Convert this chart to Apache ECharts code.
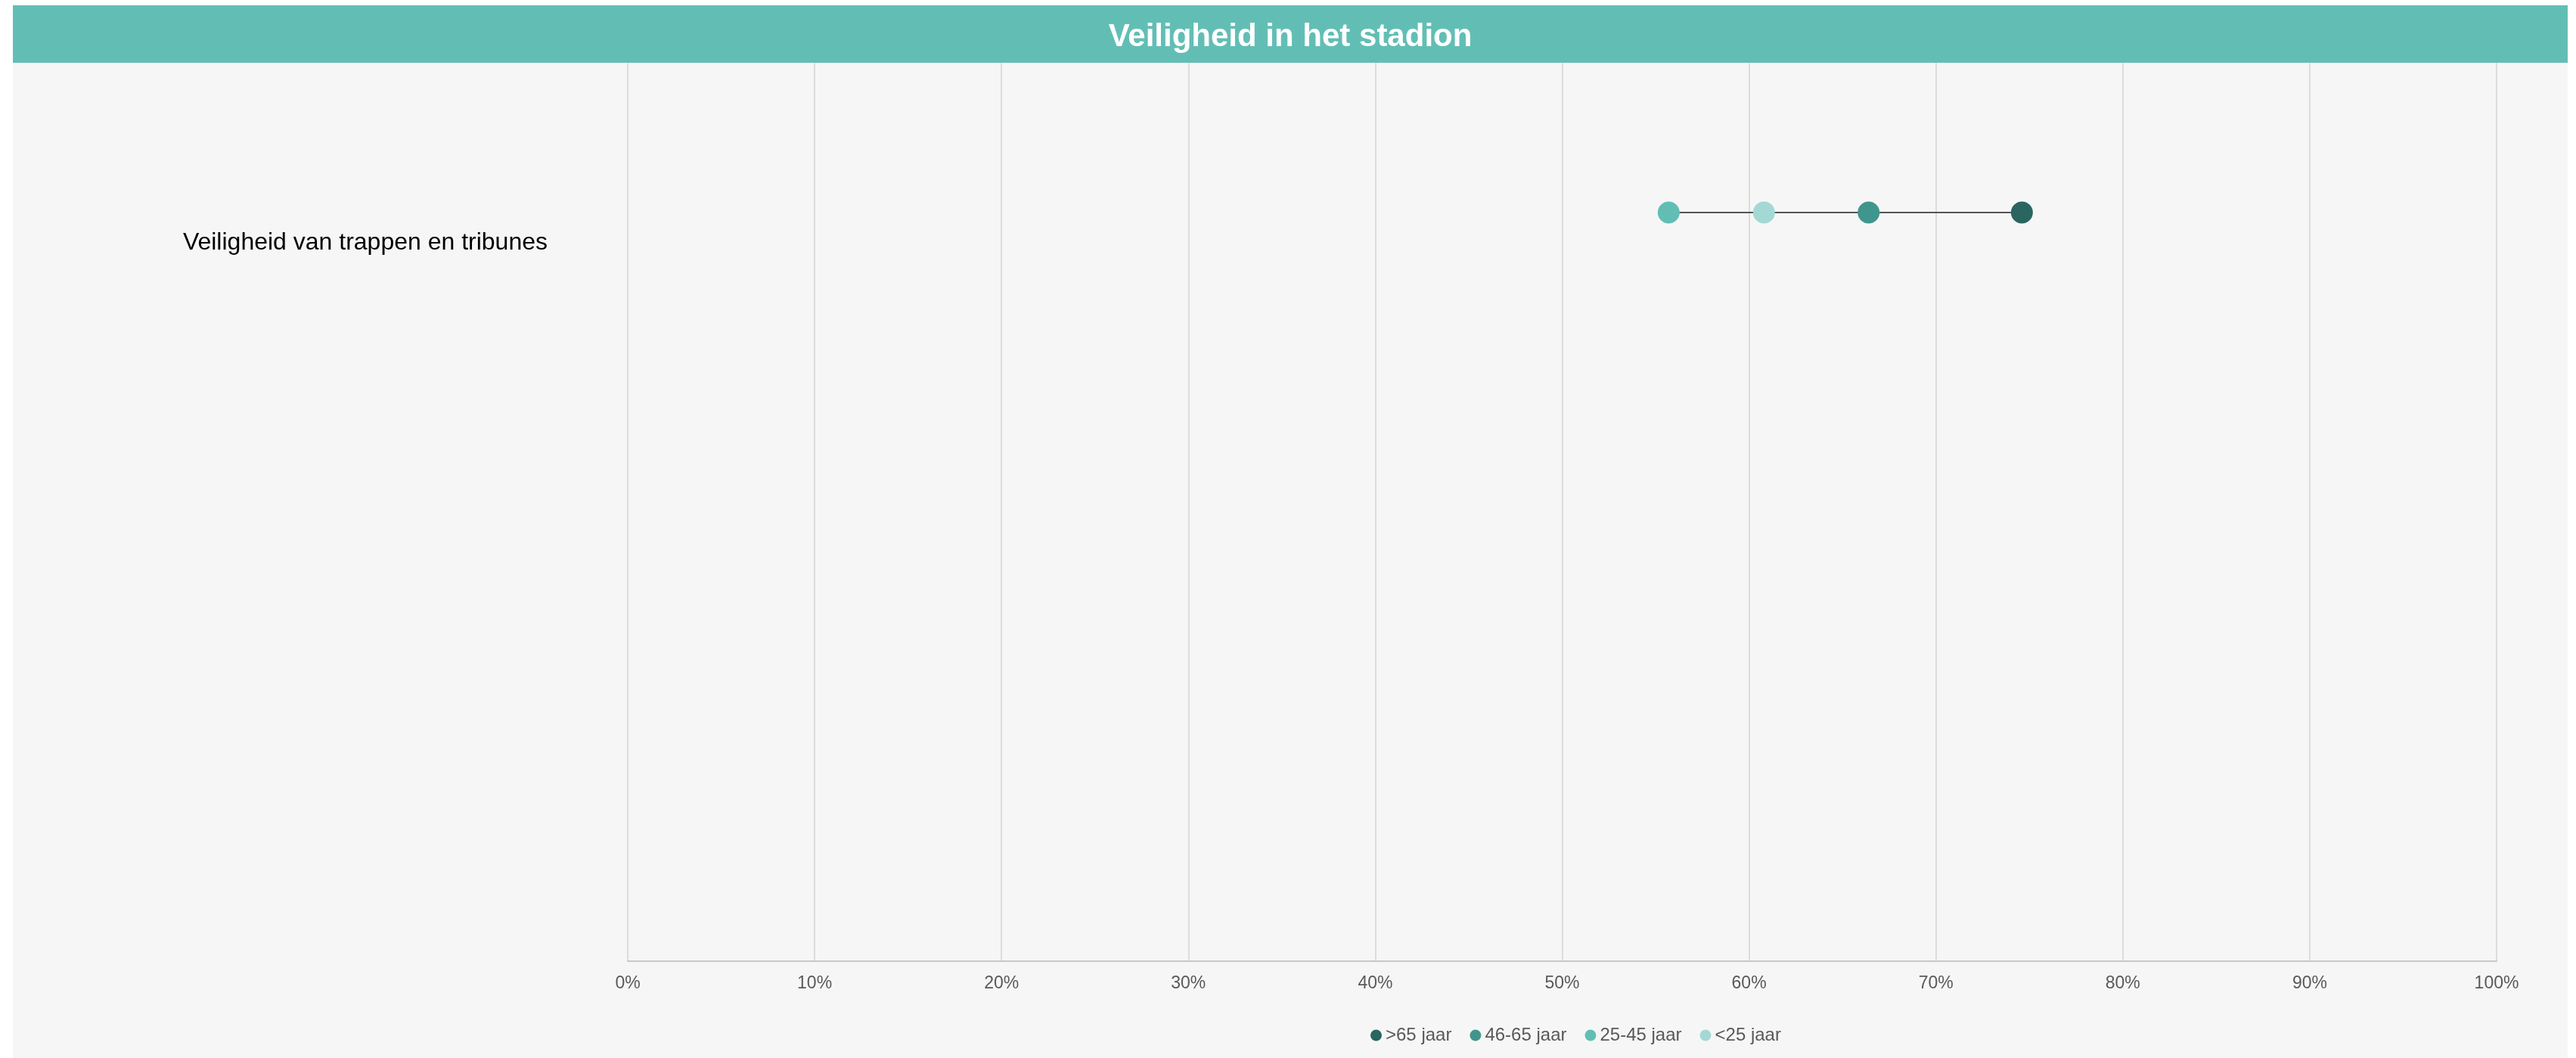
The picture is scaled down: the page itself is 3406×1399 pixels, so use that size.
<!DOCTYPE html>
<html>
<head>
<meta charset="utf-8">
<script src="https://cdn.jsdelivr.net/npm/echarts@6/dist/echarts.min.js"></script>
<style>
  html, body { margin: 0; padding: 0; background: #ffffff; }
  #chart { position: absolute; left: 17px; top: 7px; width: 3378px; height: 1392px; background: #F6F6F6; }
</style>
</head>
<body>
<div id="chart"></div>
<script>
// ---- data ----
const titleText = 'Veiligheid in het stadion';
const categories = ['Veiligheid van trappen en tribunes'];
const ageGroups = ['>65 jaar', '46-65 jaar', '25-45 jaar', '<25 jaar'];
const values = [74.6, 66.4, 55.7, 60.8];          // percent per age group
const groupColors = ['#2A6560', '#40968C', '#62BEB5', '#A3D9D4'];
const xTicks = [0, 10, 20, 30, 40, 50, 60, 70, 80, 90, 100];

const chart = echarts.init(document.getElementById('chart'), null, { renderer: 'canvas' });
const font = '"Liberation Sans", Arial, Helvetica, sans-serif';

const minV = Math.min.apply(null, values);
const maxV = Math.max.apply(null, values);

const series = [{
  type: 'line',
  name: 'range',
  data: [[minV, categories[0]], [maxV, categories[0]]],
  symbol: 'none',
  lineStyle: { color: '#555555', width: 2 },
  silent: true,
  z: 1
}];
ageGroups.forEach(function (g, i) {
  series.push({
    type: 'scatter',
    name: g,
    data: [[values[i], categories[0]]],
    symbol: 'circle',
    symbolSize: 29,
    itemStyle: { color: groupColors[i], opacity: 1 },
    z: 3
  });
});

chart.setOption({
  animation: false,
  backgroundColor: 'transparent',
  graphic: [{
    type: 'rect',
    left: 0, top: 0,
    shape: { width: 3378, height: 76 },
    style: { fill: '#62BEB5' },
    z: -1
  }],
  title: {
    text: titleText,
    left: 'center',
    top: 16,
    textStyle: { color: '#ffffff', fontSize: 42, fontWeight: 'bold', fontFamily: font }
  },
  grid: { left: 813, right: 94, top: 76, bottom: 128, containLabel: false },
  legend: {
    data: ageGroups,
    left: 1790,
    top: 1345,
    icon: 'circle',
    itemWidth: 15,
    itemHeight: 15,
    itemGap: 24,
    textStyle: { color: '#595959', fontSize: 24, fontFamily: font }
  },
  xAxis: {
    type: 'value',
    min: xTicks[0],
    max: xTicks[xTicks.length - 1],
    interval: xTicks[1] - xTicks[0],
    axisLine: { show: true, lineStyle: { color: '#C8C8C8', width: 2 } },
    axisTick: { show: false },
    splitLine: { show: true, lineStyle: { color: '#DCDCDC', width: 2 } },
    axisLabel: { formatter: '{value}%', color: '#595959', fontSize: 23, fontFamily: font, margin: 18 }
  },
  yAxis: {
    type: 'category',
    data: categories,
    inverse: true,
    max: 2,
    axisLine: { show: false },
    axisTick: { show: false },
    splitLine: { show: false },
    axisLabel: {
      margin: 106,
      formatter: function (v) { return '{a|' + v + '}'; },
      rich: { a: { color: '#000000', fontSize: 32, fontFamily: font, padding: [80, 0, 0, 0] } }
    }
  },
  series: series
});
</script>
</body>
</html>
